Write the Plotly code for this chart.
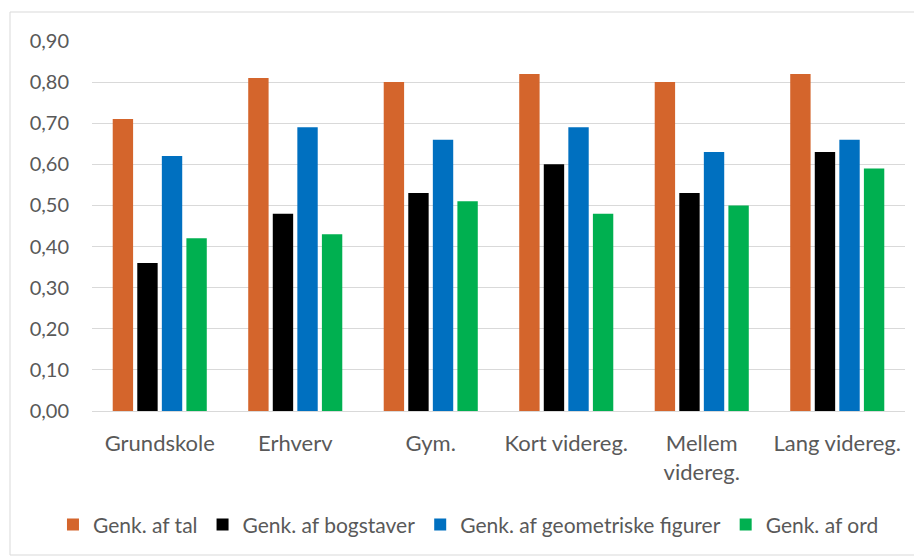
import plotly.graph_objects as go

categories = ["Grundskole", "Erhverv", "Gym.", "Kort videreg.", "Mellem<br>videreg.", "Lang videreg."]
series_names = ["Genk. af tal", "Genk. af bogstaver", "Genk. af geometriske figurer", "Genk. af ord"]
tal = [0.71, 0.81, 0.80, 0.82, 0.80, 0.82]
bogstaver = [0.36, 0.48, 0.53, 0.60, 0.53, 0.63]
geometriske = [0.62, 0.69, 0.66, 0.69, 0.63, 0.66]
ord = [0.42, 0.43, 0.51, 0.48, 0.50, 0.59]
colors = ["#D4652C", "#000000", "#0070C0", "#00B050"]
y_ticks = [0.0, 0.1, 0.2, 0.3, 0.4, 0.5, 0.6, 0.7, 0.8, 0.9]
y_tick_labels = ["0,00", "0,10", "0,20", "0,30", "0,40", "0,50", "0,60", "0,70", "0,80", "0,90"]

FONT = "Lato, Open Sans, sans-serif"
TXT = "#595959"
fig = go.Figure()
for name, vals, col in zip(series_names, [tal, bogstaver, geometriske, ord], colors):
    fig.add_trace(go.Bar(x=categories, y=vals, name=name, marker=dict(color=col, line=dict(width=0))))

fig.update_layout(
    width=914, height=548,
    margin=dict(l=84, r=17, t=33, b=145, autoexpand=False),
    paper_bgcolor="white", plot_bgcolor="white",
    barmode="group", bargap=0.275, bargroupgap=0.17,
    font=dict(family=FONT, size=22, color=TXT),
    showlegend=True,
    legend=dict(orientation="h", x=-0.048, xanchor="left", y=-0.308, yanchor="middle",
                font=dict(size=21, color=TXT), itemwidth=30, traceorder="normal",
                tracegroupgap=0),
    xaxis=dict(showgrid=False, showline=True, linecolor="#d9d9d9", linewidth=1,
               ticks="", tickfont=dict(size=22, color=TXT), ticklabelstandoff=13),
    yaxis=dict(range=[0, 0.9], tickvals=y_ticks, ticktext=y_tick_labels,
               showgrid=True, gridcolor="#d9d9d9", gridwidth=1, zeroline=False,
               showline=False, ticks="", ticklabelstandoff=22,
               tickfont=dict(size=20, color=TXT)),
    shapes=[dict(type="rect", xref="paper", yref="paper",
                 x0=(2 - 84) / 813, x1=(912 - 84) / 813,
                 y0=(403 - 547) / 370, y1=(403 - 4) / 370,
                 line=dict(color="#d9d9d9", width=1), fillcolor="rgba(0,0,0,0)", layer="below")],
)
fig.write_html("out.html")
